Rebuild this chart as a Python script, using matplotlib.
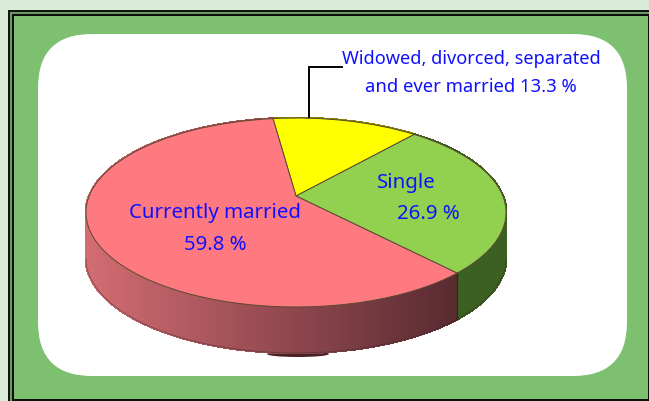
import numpy as np
import matplotlib
matplotlib.use("Agg")
import matplotlib.pyplot as plt
from matplotlib.patches import Rectangle, FancyBboxPatch, Ellipse
from matplotlib.collections import PolyCollection
from matplotlib.transforms import Transform
from matplotlib.colors import to_rgb

categories = ["Widowed, divorced, separated\nand ever married", "Single", "Currently married"]
values = [13.3, 26.9, 59.8]
top_colors = ["#FFFF00", "#92D050", "#FF7A80"]
side_left = ["#8a8a00", "#47702A", "#D26C72"]
side_right = ["#8a8a00", "#3C5F22", "#572A30"]
text_color = "#1010FF"

W, H = 649, 401
CX, CY, A, B, P = 296.0, 196.0, 206.8, 91.6, 0.1746
DEPTH = 46
START = 97.5


def project(xy):
    xy = np.asarray(xy, dtype=float)
    d = 1 + P * xy[..., 1]
    return np.stack([CX + A * xy[..., 0] / d, CY - B * xy[..., 1] / d], axis=-1)


class Tilt(Transform):
    input_dims = output_dims = 2
    is_affine = False
    has_inverse = False

    def transform_non_affine(self, values):
        return project(values)


plt.rcParams["font.family"] = ["Noto Sans", "DejaVu Sans"]
fig = plt.figure(figsize=(W / 100, H / 100), dpi=100, facecolor="#D9ECD9")
ax = fig.add_axes([0, 0, 1, 1])

wedges, _ = ax.pie(values, startangle=START, counterclock=False, colors=top_colors,
                   wedgeprops=dict(edgecolor="#5A4A30", linewidth=0.7, zorder=4))
tilt = Tilt() + ax.transData
for w in wedges:
    w.set_transform(tilt)

ax.set_aspect("auto")
ax.set_xlim(0, W)
ax.set_ylim(H, 0)
ax.axis("off")

# frame
for (x0, y0, c) in [(8, 10, "#101510"), (10, 12, "#6E9A66"), (12, 14, "#0C100C")]:
    ax.add_patch(Rectangle((x0, y0), W - x0, H - y0, fc=c, ec="none", zorder=0))
ax.add_patch(Rectangle((14, 16), W - 15, H - 18, fc="#7DC06F", ec="none", zorder=0.1))
R = 54
ax.add_patch(FancyBboxPatch((38 + R, 34 + R), 589 - 2 * R, 342 - 2 * R,
                            boxstyle=f"round,pad={R},rounding_size={R}",
                            fc="white", ec="none", zorder=0.2))
ax.add_patch(Ellipse((298, 354), 62, 6, fc="#4A2026", ec="none", zorder=1))

# side walls
for w, cl, cr in zip(wedges, side_left, side_right):
    th = np.radians(np.linspace(w.theta1, w.theta2, max(int(w.theta2 - w.theta1) * 2, 2)))
    pts = project(np.column_stack([np.cos(th), np.sin(th)]))
    quads, cols = [], []
    c0, c1 = np.array(to_rgb(cl)), np.array(to_rgb(cr))
    for a, b in zip(pts[:-1], pts[1:]):
        quads.append([a, b, b + [0, DEPTH], a + [0, DEPTH]])
        f = np.clip(((a[0] + b[0]) / 2 - 90) / 370, 0, 1)
        cols.append(c0 + (c1 - c0) * f)
    ax.add_collection(PolyCollection(quads, facecolors=cols, edgecolors=cols,
                                     linewidths=1.2, antialiaseds=False, zorder=2))
    low = np.where(np.sin(th) < -P, 0, np.nan)
    ax.plot(pts[:, 0], pts[:, 1] + DEPTH + low, color="#3A2A2A", lw=0.6, zorder=2.1, alpha=0.5)

# edge between the green and red walls
th = np.radians(wedges[1].theta1)
p = project(np.array([np.cos(th), np.sin(th)]))
ax.plot([p[0], p[0]], [p[1], p[1] + DEPTH], color="#2B2B15", lw=0.9, zorder=2.5)

# leader line
ax.plot([309, 309, 342], [118, 67, 67], color="black", lw=1.4, zorder=3,
        solid_joinstyle="miter")

fs = 13.1
big = 14.7
ax.text(471, 59, "Widowed, divorced, separated", color=text_color, fontsize=fs, ha="center", va="center", zorder=6)
ax.text(471, 87, f"and ever married {values[0]} %", color=text_color, fontsize=fs + 0.2, ha="center", va="center", zorder=6)
ax.text(406, 183, categories[1], color=text_color, fontsize=big, ha="center", va="center", zorder=6)
ax.text(428, 214, f"{values[1]} %", color=text_color, fontsize=big, ha="center", va="center", zorder=6)
ax.text(215, 213, categories[2], color=text_color, fontsize=big, ha="center", va="center", zorder=6)
ax.text(215, 245, f"{values[2]} %", color=text_color, fontsize=big, ha="center", va="center", zorder=6)

fig.savefig("out.png", dpi=100, facecolor=fig.get_facecolor())
